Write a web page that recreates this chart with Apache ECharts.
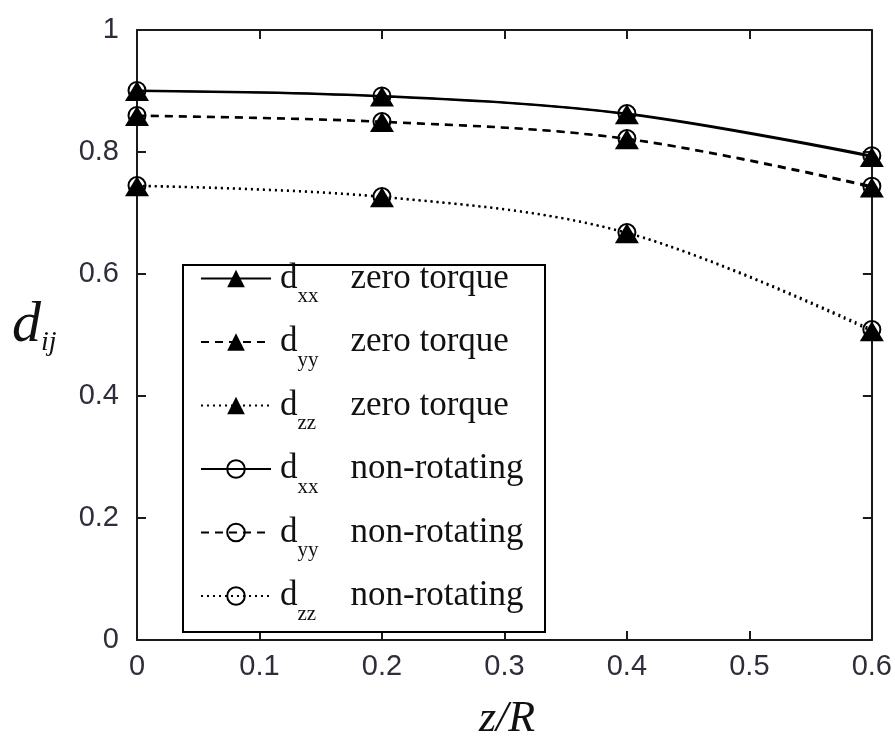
<!DOCTYPE html>
<html>
<head>
<meta charset="utf-8">
<script src="https://cdn.jsdelivr.net/npm/echarts@6/dist/echarts.min.js"></script>
<style>
html,body{margin:0;padding:0;background:#fff;}
#chart{width:895px;height:742px;}
</style>
</head>
<body>
<div id="chart"></div>
<script>
// ---- data ----
const zR = [0, 0.2, 0.4, 0.6];
const dxxZeroTorque = [0.900, 0.891, 0.862, 0.792];
const dyyZeroTorque = [0.859, 0.849, 0.821, 0.742];
const dzzZeroTorque = [0.744, 0.726, 0.667, 0.506];
const dxxNonRotating = [0.901, 0.892, 0.863, 0.794];
const dyyNonRotating = [0.860, 0.850, 0.822, 0.744];
const dzzNonRotating = [0.745, 0.727, 0.668, 0.509];
const xTickLabels = ['0', '0.1', '0.2', '0.3', '0.4', '0.5', '0.6'];
const yTickLabels = ['0', '0.2', '0.4', '0.6', '0.8', '1'];
const seriesDefs = [
  {key: 'xx', cond: 'zero torque', values: dxxZeroTorque},
  {key: 'yy', cond: 'zero torque', values: dyyZeroTorque},
  {key: 'zz', cond: 'zero torque', values: dzzZeroTorque},
  {key: 'xx', cond: 'non-rotating', values: dxxNonRotating},
  {key: 'yy', cond: 'non-rotating', values: dyyNonRotating},
  {key: 'zz', cond: 'non-rotating', values: dzzNonRotating}
];

const lineTypes = {xx: 'solid', yy: [8, 6], zz: [2, 4]};
const axisColor = '#1a1a1a';
const tickFont = {fontFamily: 'Liberation Sans, Arial, sans-serif', fontSize: 29, color: '#2e2e3a'};
const serif = 'Liberation Serif, Times New Roman, serif';

const chart = echarts.init(document.getElementById('chart'), null, {renderer: 'canvas'});

const series = seriesDefs.map(d => {
  const zero = d.cond === 'zero torque';
  return {
    name: 'd' + d.key + ' ' + d.cond,
    type: 'line',
    smooth: 0.35,
    data: zR.map((x, i) => [x, d.values[i]]),
    symbol: zero ? 'triangle' : 'circle',
    symbolSize: zero ? [24, 20] : 17,
    z: zero ? 2 : 3,
    lineStyle: {color: '#000', width: 2, type: lineTypes[d.key]},
    itemStyle: zero
      ? {color: '#000', borderColor: '#000', borderWidth: 0}
      : {color: 'rgba(0,0,0,0)', borderColor: '#000', borderWidth: 2},
    emphasis: {disabled: true},
    animation: false
  };
});

const option = {
  backgroundColor: '#fff',
  animation: false,
  grid: {left: 137, right: 23, top: 30, bottom: 102, show: false},
  xAxis: [{
    type: 'value', min: 0, max: 0.6, interval: 0.1, position: 'bottom',
    axisLine: {show: true, onZero: false, lineStyle: {color: axisColor, width: 2}},
    axisTick: {show: true, inside: true, length: 9, lineStyle: {color: axisColor, width: 2}},
    axisLabel: Object.assign({margin: 12, formatter: (v) => xTickLabels[Math.round(v * 10)]}, tickFont),
    splitLine: {show: false}
  }, {
    type: 'value', min: 0, max: 0.6, interval: 0.1, position: 'top',
    axisLine: {show: true, onZero: false, lineStyle: {color: axisColor, width: 2}},
    axisTick: {show: true, inside: true, length: 9, lineStyle: {color: axisColor, width: 2}},
    axisLabel: {show: false}, splitLine: {show: false}
  }],
  yAxis: [{
    type: 'value', min: 0, max: 1, interval: 0.2, position: 'left',
    axisLine: {show: true, onZero: false, lineStyle: {color: axisColor, width: 2}},
    axisTick: {show: true, inside: true, length: 9, lineStyle: {color: axisColor, width: 2}},
    axisLabel: Object.assign({margin: 18, formatter: (v) => yTickLabels[Math.round(v * 5)]}, tickFont),
    splitLine: {show: false}
  }, {
    type: 'value', min: 0, max: 1, interval: 0.2, position: 'right',
    axisLine: {show: true, onZero: false, lineStyle: {color: axisColor, width: 2}},
    axisTick: {show: true, inside: true, length: 9, lineStyle: {color: axisColor, width: 2}},
    axisLabel: {show: false}, splitLine: {show: false}
  }],
  legend: {
    show: true,
    orient: 'vertical',
    left: 200, top: 250,
    padding: 0,
    itemWidth: 70, itemHeight: 22, itemGap: 6.5,
    selectedMode: false,
    data: seriesDefs.map(d => 'd' + d.key + ' ' + d.cond),
    formatter: (name) => {
      const key = name.substr(1, 2);
      const cond = name.substr(4);
      return '{d|d}{s|' + key + '}{t|' + cond + '}';
    },
    textStyle: {
      fontFamily: serif,
      color: '#111',
      rich: {
        d: {fontSize: 35, fontFamily: serif, lineHeight: 44, padding: [0, 0, 0, 4], color: '#111'},
        s: {fontSize: 21, fontFamily: serif, lineHeight: 20, padding: [36, 0, 0, 0], width: 53, color: '#111'},
        t: {fontSize: 35, fontFamily: serif, lineHeight: 44, color: '#111'}
      }
    }
  },
  graphic: [
    {
      type: 'rect', z: 10,
      shape: {x: 183, y: 265, width: 362, height: 367},
      style: {fill: null, stroke: '#000', lineWidth: 2}
    },
    {
      type: 'text', left: 12, top: 297,
      style: {
        rich: {
          d: {fontSize: 58, fontStyle: 'italic', fontFamily: serif, fill: '#111', lineHeight: 60},
          s: {fontSize: 28, fontStyle: 'italic', fontFamily: serif, fill: '#111', padding: [34, 0, 0, 0]}
        },
        text: '{d|d}{s|ij}'
      }
    },
    {
      type: 'text', x: 507, y: 697,
      style: {
        text: 'z/R', fontSize: 44, fontStyle: 'italic', fontFamily: serif, fill: '#111',
        align: 'center', verticalAlign: 'top'
      }
    }
  ],
  series: series
};
chart.setOption(option);
</script>
</body>
</html>
